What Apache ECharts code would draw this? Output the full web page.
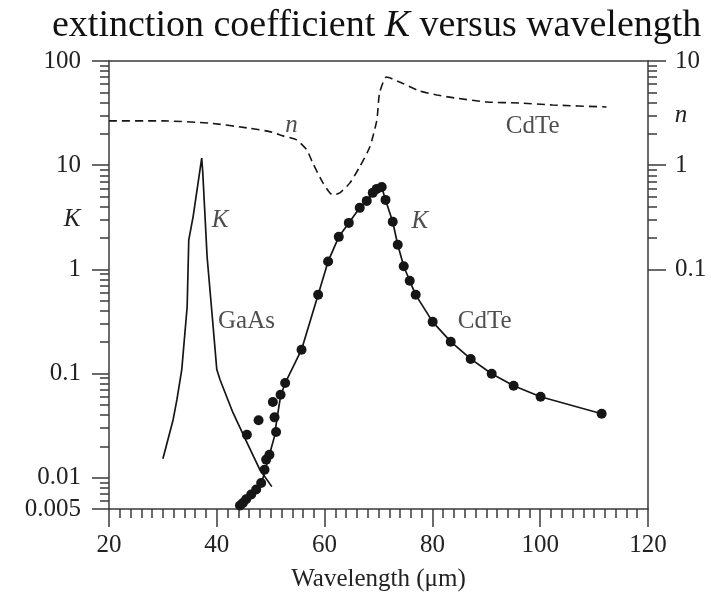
<!DOCTYPE html>
<html>
<head>
<meta charset="utf-8">
<script src="https://cdn.jsdelivr.net/npm/echarts@6/dist/echarts.min.js"></script>
<style>
  html, body { margin: 0; padding: 0; background: #fff; }
  #chart { width: 711px; height: 596px; }
</style>
</head>
<body>
<div id="chart"></div>
<script>
// GaAs extinction coefficient K (solid line, no markers)
const gaasK = [
  [30.0, 0.0152], [31.9, 0.036], [32.6, 0.056], [33.5, 0.109], [34.5, 0.437],
  [34.8, 1.92], [35.6, 3.19], [37.2, 11.7], [37.4, 8.43], [38.2, 1.32],
  [39.1, 0.383], [40.0, 0.109], [40.6, 0.087], [43.0, 0.042], [45.6, 0.0217],
  [48.0, 0.0119], [50.2, 0.0082]
];

// CdTe K, fitted curve
const cdteFit = [
  [44.0, 0.0052], [45.5, 0.0062], [47.3, 0.0077], [48.5, 0.0096], [49.77, 0.0166],
  [50.7, 0.0249], [51.2, 0.0379], [51.83, 0.0603], [52.68, 0.081], [55.72, 0.169],
  [58.8, 0.569], [60.65, 1.19], [62.63, 2.05], [64.49, 2.79], [66.52, 3.89],
  [67.82, 4.54], [68.93, 5.42], [70.6, 6.18], [71.3, 4.64], [72.64, 2.86],
  [73.57, 1.72], [74.68, 1.07], [75.79, 0.776], [76.9, 0.569], [80.05, 0.313],
  [83.4, 0.202], [87.1, 0.138], [91.0, 0.0995], [95.07, 0.0763], [100.07, 0.0598],
  [111.4, 0.0411]
];

// CdTe K, measured points
const cdteMeasured = [
  [44.3, 0.0054], [44.84, 0.0057], [45.45, 0.0062], [46.38, 0.0069], [47.3, 0.0077],
  [48.23, 0.0089], [48.86, 0.0119], [49.16, 0.0149], [49.77, 0.0166], [45.58, 0.0258],
  [51.0, 0.0274], [47.75, 0.0355], [50.71, 0.0379], [50.4, 0.0532], [51.83, 0.0625],
  [52.68, 0.081], [55.72, 0.169], [58.8, 0.569], [60.65, 1.19], [62.63, 2.05],
  [64.49, 2.79], [66.52, 3.89], [67.82, 4.54], [68.93, 5.42], [69.68, 5.92],
  [70.6, 6.18], [71.3, 4.64], [72.64, 2.86], [73.57, 1.72], [74.68, 1.07],
  [75.79, 0.776], [76.9, 0.569], [80.05, 0.313], [83.4, 0.202], [87.1, 0.138],
  [91.0, 0.0995], [95.07, 0.0763], [100.07, 0.0598], [111.4, 0.0411]
];

// CdTe refractive index n (dashed, right axis)
const cdteN = [
  [20, 2.66], [30, 2.66], [38.7, 2.53], [46.1, 2.26], [49.8, 2.10], [52.3, 1.91],
  [54.8, 1.75], [56.7, 1.40], [57.8, 1.05], [59.7, 0.676], [61.5, 0.518],
  [62.8, 0.542], [64.7, 0.676], [66.5, 0.962], [68.4, 1.50], [69.7, 2.72],
  [70.2, 4.93], [71.5, 7.02], [73.9, 6.29], [77.6, 5.16], [80.8, 4.72],
  [84.1, 4.42], [90.1, 4.04], [96.2, 3.95], [102.3, 3.78], [112.3, 3.62]
];

const kTicks = [0.005, 0.01, 0.1, 1, 10, 100];
const kMinorTicks = [
  0.006, 0.007, 0.008, 0.009,
  0.02, 0.03, 0.04, 0.05, 0.06, 0.07, 0.08, 0.09,
  0.2, 0.3, 0.4, 0.5, 0.6, 0.7, 0.8, 0.9,
  2, 3, 4, 5, 6, 7, 8, 9,
  20, 30, 40, 50, 60, 70, 80, 90
];
const nTicks = [0.1, 1, 10];
const nMinorTicks = [0.2, 0.3, 0.4, 0.5, 0.6, 0.7, 0.8, 0.9, 2, 3, 4, 5, 6, 7, 8, 9];

// in-plot text labels, anchored in data space (x, K)
const notes = [
  { name: 'n', value: [53.87, 24.3], italic: true },
  { name: 'CdTe', value: [98.6, 23.3] },
  { name: 'K', value: [40.6, 2.98], italic: true },
  { name: 'GaAs', value: [45.5, 0.316] },
  { name: 'K', value: [77.65, 2.87], italic: true },
  { name: 'CdTe', value: [89.7, 0.316] }
];

const serif = '"Liberation Serif", "Times New Roman", serif';
const ink = '#161616';
const axisInk = '#3a3a3a';
const textInk = '#222';

const chart = echarts.init(document.getElementById('chart'));

const axisLine = { show: true, onZero: false, lineStyle: { color: axisInk, width: 1.5 } };
const labelStyle = { fontFamily: serif, fontSize: 25, color: textInk };

chart.setOption({
  animation: false,
  title: {
    text: '{a|extinction coefficient }{k|K}{a| versus wavelength}',
    left: 47,
    top: 2,
    textStyle: {
      fontWeight: 'normal',
      rich: {
        a: { fontFamily: serif, fontSize: 38, fontWeight: 'normal', color: '#111' },
        k: { fontFamily: serif, fontSize: 38, fontWeight: 'normal', fontStyle: 'italic', color: '#111' }
      }
    }
  },
  grid: { left: 109, right: 63, top: 61, bottom: 87, outerBoundsMode: 'none' },
  xAxis: [
    {
      type: 'value', min: 20, max: 120, interval: 20, position: 'bottom',
      axisLine: axisLine,
      axisTick: { show: true, length: 18, lineStyle: { color: axisInk, width: 1.5 } },
      minorTick: { show: true, splitNumber: 10, length: 9, lineStyle: { color: axisInk, width: 1.5 } },
      axisLabel: Object.assign({ margin: 24 }, labelStyle),
      splitLine: { show: false },
      minorSplitLine: { show: false },
      name: 'Wavelength (μm)',
      nameLocation: 'middle',
      nameGap: 58,
      nameTextStyle: labelStyle
    },
    {
      type: 'value', min: 20, max: 120, position: 'top',
      axisLine: axisLine,
      axisTick: { show: false },
      axisLabel: { show: false },
      splitLine: { show: false }
    }
  ],
  yAxis: [
    {
      type: 'log', logBase: 10, min: 0.005, max: 100, position: 'left',
      axisLine: axisLine,
      axisTick: { show: true, customValues: kTicks, length: 17, lineStyle: { color: axisInk, width: 1.5 } },
      axisLabel: Object.assign({ customValues: kTicks, margin: 28 }, labelStyle),
      splitLine: { show: false }
    },
    {
      type: 'log', logBase: 10, min: 0.005, max: 100, position: 'left',
      axisLine: { show: false },
      axisTick: { show: true, customValues: kMinorTicks, length: 9, lineStyle: { color: axisInk, width: 1.5 } },
      axisLabel: { show: false },
      splitLine: { show: false }
    },
    {
      type: 'log', logBase: 10, min: 0.0005, max: 10, position: 'right',
      axisLine: axisLine,
      axisTick: { show: true, customValues: nTicks, length: 18, lineStyle: { color: axisInk, width: 1.5 } },
      axisLabel: Object.assign({ customValues: nTicks, margin: 27 }, labelStyle),
      splitLine: { show: false }
    },
    {
      type: 'log', logBase: 10, min: 0.0005, max: 10, position: 'right',
      axisLine: { show: false },
      axisTick: { show: true, customValues: nMinorTicks, length: 9, lineStyle: { color: axisInk, width: 1.5 } },
      axisLabel: { show: false },
      splitLine: { show: false }
    }
  ],
  series: [
    {
      name: 'GaAs K', type: 'line', data: gaasK, xAxisIndex: 0, yAxisIndex: 0,
      showSymbol: false, lineStyle: { color: ink, width: 1.7 }
    },
    {
      name: 'CdTe K fit', type: 'line', data: cdteFit, xAxisIndex: 0, yAxisIndex: 0,
      showSymbol: false, lineStyle: { color: ink, width: 1.7 }
    },
    {
      name: 'CdTe K', type: 'scatter', data: cdteMeasured, xAxisIndex: 0, yAxisIndex: 0,
      symbol: 'circle', symbolSize: 10, itemStyle: { color: ink, opacity: 1 }
    },
    {
      name: 'CdTe n', type: 'line', data: cdteN, xAxisIndex: 0, yAxisIndex: 2,
      showSymbol: false, smooth: 0.2,
      lineStyle: { color: ink, width: 1.6, type: [8, 5] }
    },
    {
      name: 'notes', type: 'scatter', xAxisIndex: 0, yAxisIndex: 0,
      symbolSize: 0.1, itemStyle: { color: 'rgba(0,0,0,0)' },
      data: notes.map(d => ({
        name: d.name,
        value: d.value,
        label: { fontStyle: d.italic ? 'italic' : 'normal' }
      })),
      label: {
        show: true, position: 'inside', formatter: p => p.name,
        fontFamily: serif, fontSize: 25, color: textInk
      }
    }
  ]
});

// axis-side symbols K (left) and n (right), both placed at value 3
const kY = chart.convertToPixel({ yAxisIndex: 0 }, 3);
const nY = chart.convertToPixel({ yAxisIndex: 2 }, 3);
const leftX = chart.convertToPixel({ xAxisIndex: 0 }, 20);
const rightX = chart.convertToPixel({ xAxisIndex: 0 }, 120);
const axisSym = (text, x, y) => ({
  type: 'text', x: x, y: y,
  style: {
    text: text, fontFamily: serif, fontSize: 25, fontStyle: 'italic',
    fill: textInk, align: 'center', verticalAlign: 'middle'
  }
});
chart.setOption({
  graphic: [axisSym('K', leftX - 37, kY), axisSym('n', rightX + 33, nY)]
});
</script>
</body>
</html>
